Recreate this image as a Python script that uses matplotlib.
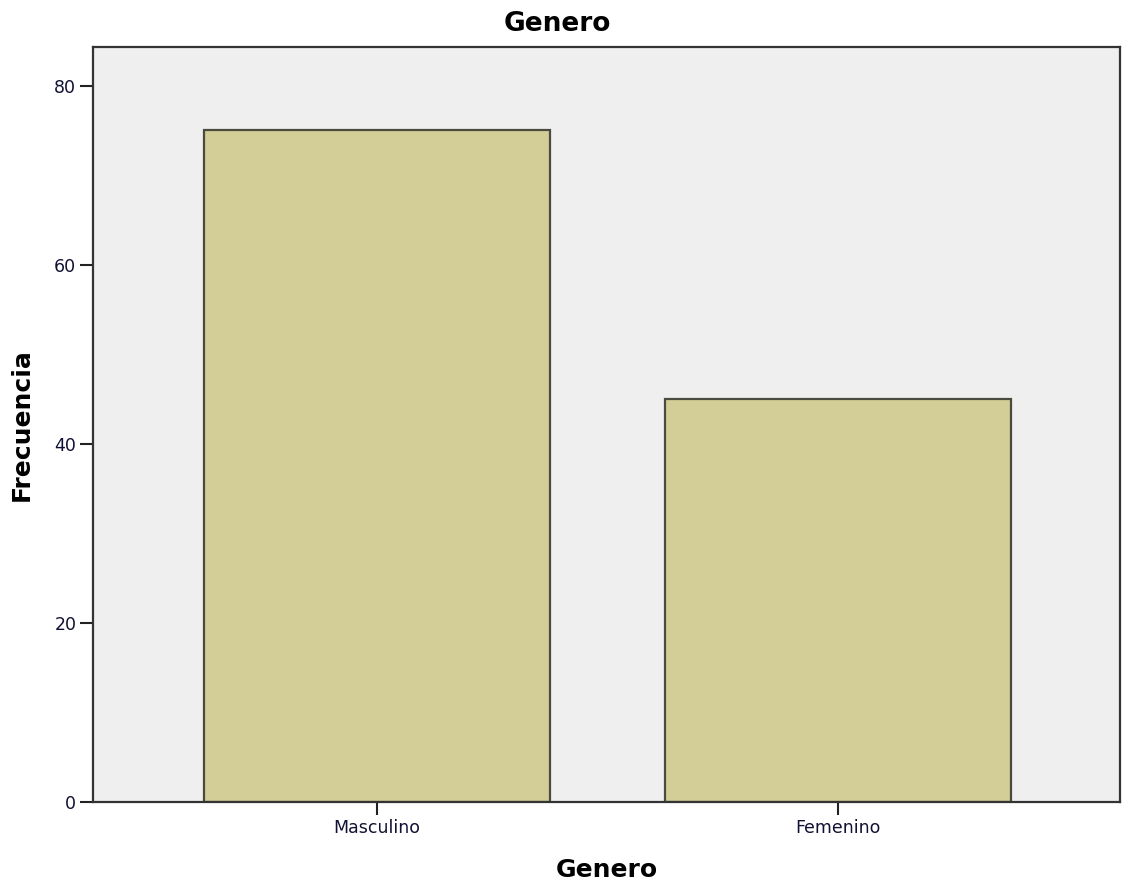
import matplotlib
matplotlib.use("Agg")
import matplotlib.pyplot as plt

categorias = ["Masculino", "Femenino"]
frecuencias = [75, 45]
y_ticks = [0, 20, 40, 60, 80]

plt.rcParams['font.family'] = ['DejaVu Sans']

fig = plt.figure(figsize=(11.26, 8.88), dpi=100)
ax = fig.add_axes([93/1126, 86/888, 1027/1126, 755/888])
ax.set_facecolor("#efefef")

pos = list(range(len(categorias)))
ax.bar(pos, frecuencias, width=0.75, color="#d3ce97", edgecolor="#4a4a3e", linewidth=1.6, zorder=2)

ax.set_xlim(-0.616, 1.612)
ax.set_ylim(0, 84.3)
ax.set_xticks(pos)
ax.set_xticklabels(categorias)
ax.set_yticks(y_ticks)

for s in ax.spines.values():
    s.set_color("#333333")
    s.set_linewidth(1.6)

ax.tick_params(axis="both", length=9.5, width=1.5, color="#222222", labelsize=12.5, pad=2.5, labelcolor="#111133")

ax.set_xlabel("Genero", fontsize=18, fontweight="bold", labelpad=15)
ax.set_ylabel("Frecuencia", fontsize=18, fontweight="bold", labelpad=15)
fig.suptitle("Genero", x=557/1126, y=0.988, fontsize=19, fontweight="bold", va="top")

fig.savefig("out.png", dpi=100)
